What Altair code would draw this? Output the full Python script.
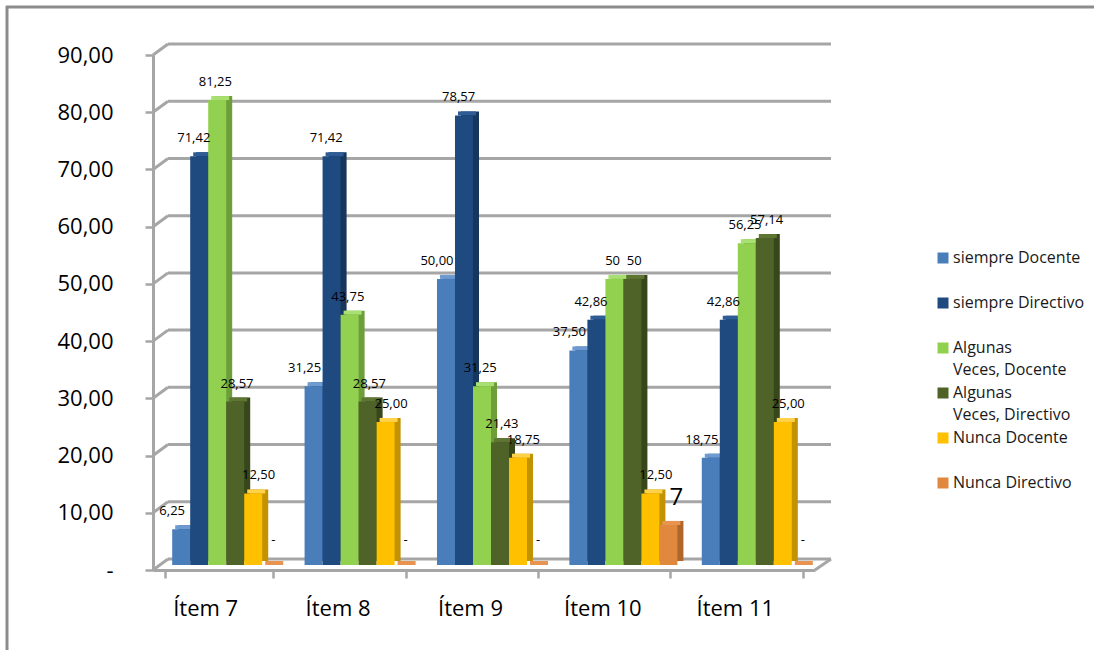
import altair as alt
import pandas as pd

# Categories and series
items = ["Ítem 7", "Ítem 8", "Ítem 9", "Ítem 10", "Ítem 11"]
series = ["siempre Docente", "siempre Directivo", "Algunas Veces, Docente",
          "Algunas Veces, Directivo", "Nunca Docente", "Nunca Directivo"]
legend_text = ["siempre Docente", "siempre Directivo", "Algunas\nVeces, Docente",
               "Algunas\nVeces, Directivo", "Nunca Docente", "Nunca Directivo"]

# Percentages per item
siempre_docente = [6.25, 31.25, 50.00, 37.50, 18.75]
siempre_directivo = [71.42, 71.42, 78.57, 42.86, 42.86]
algunas_docente = [81.25, 43.75, 31.25, 50.00, 56.25]
algunas_directivo = [28.57, 28.57, 21.43, 50.00, 57.14]
nunca_docente = [12.50, 25.00, 18.75, 12.50, 25.00]
nunca_directivo = [0.0, 0.0, 0.0, 7.0, 0.0]

# Labels printed as whole numbers
whole_labels = {("Ítem 10", "Algunas Veces, Docente"),
                ("Ítem 10", "Algunas Veces, Directivo"),
                ("Ítem 10", "Nunca Directivo")}
big_label = ("Ítem 10", "Nunca Directivo")

y_ticks = [0, 10, 20, 30, 40, 50, 60, 70, 80, 90]

front_colors = ["#4A7EBB", "#1F4A80", "#92D050", "#4F6228", "#FFC000", "#E0883E"]
side_colors = ["#375F8F", "#16365C", "#6E9E3A", "#38461B", "#C29200", "#B0652B"]
top_colors = ["#6D9AD0", "#2D5C96", "#A9E072", "#5E7632", "#FFD24A", "#E89350"]

rows = []
for k, (name, vals) in enumerate(zip(series, [siempre_docente, siempre_directivo, algunas_docente,
                                              algunas_directivo, nunca_docente, nunca_directivo])):
    for item, v in zip(items, vals):
        if v == 0:
            lab = "-"
        elif (item, name) in whole_labels:
            lab = str(int(v))
        else:
            lab = f"{v:.2f}".replace(".", ",")
        rows.append({"item": item, "series": name, "value": v, "label": lab,
                     "big": (item, name) == big_label,
                     "side_c": side_colors[k], "top_c": top_colors[k]})
df = pd.DataFrame(rows)
grid_df = pd.DataFrame({"value": y_ticks})
legend_df = pd.DataFrame({"series": series, "text": legend_text})

GRAY = "#A6A6A6"
W, H = 662, 515
DX, DY = 15, -11  # depth of the back wall

y_axis = alt.Axis(title=None, values=y_ticks, grid=False,
                  labelExpr="datum.value == 0 ? '-\u00a0\u00a0\u00a0' : replace(format(datum.value, '.2f'), '.', ',')",
                  domainColor=GRAY, domainWidth=3, tickColor=GRAY, tickWidth=2.5, tickSize=8,
                  labelFontSize=22, labelColor="black", labelPadding=32, labelFont="Open Sans")
x_axis = alt.Axis(title=None, tickBand="extent", labelAngle=0,
                  domainColor=GRAY, domainWidth=3, tickColor=GRAY, tickWidth=2.5, tickSize=8,
                  labelFontSize=22, labelColor="black", labelPadding=20, labelOffset=-14,
                  labelFont="Open Sans")

Y = alt.Y("value:Q", scale=alt.Scale(domain=[0, 90], nice=False), axis=y_axis)


def x_enc(shift, axis=None):
    # band scale for the items, moved back by `shift` pixels of depth
    return alt.X("item:N", sort=items,
                 scale=alt.Scale(domain=items, paddingInner=0.184, paddingOuter=0.092,
                                 range=[shift, W + shift]),
                 axis=axis)


XO = alt.XOffset("series:N", sort=series,
                 scale=alt.Scale(domain=series, paddingInner=0, paddingOuter=0))

# back-wall gridlines and their slanted joins to the front axis
grid = alt.Chart(grid_df).mark_rule(color=GRAY, strokeWidth=3, yOffset=DY).encode(
    y=Y, x=alt.value(DX), x2=alt.value(W + DX + 1))
joins = alt.Chart(grid_df).mark_rule(color=GRAY, strokeWidth=3, y2Offset=DY).encode(
    y=Y, y2=alt.Y2("value:Q"), x=alt.value(0), x2=alt.value(DX))
floor_join = alt.Chart(grid_df[grid_df["value"] == 0]).mark_rule(
    color=GRAY, strokeWidth=3, y2Offset=DY).encode(
    y=Y, y2=alt.Y2("value:Q"), x=alt.value(W), x2=alt.value(W + DX + 1))

# 3-D columns: dark side, light top, then the front face
side = alt.Chart(df).mark_bar(yOffset=-9, y2Offset=-9).encode(
    x=x_enc(13), xOffset=XO, y=Y, y2=alt.datum(0),
    fill=alt.Fill("side_c:N", scale=None))
top = alt.Chart(df).mark_bar(yOffset=-9, y2Offset=-5).encode(
    x=x_enc(10), xOffset=XO, y=Y, y2=alt.Y2("value:Q"),
    fill=alt.Fill("top_c:N", scale=None))
front = alt.Chart(df).mark_bar(yOffset=-5, y2Offset=-5).encode(
    x=x_enc(7), xOffset=XO, y=Y, y2=alt.datum(0),
    color=alt.Color("series:N", scale=alt.Scale(domain=series, range=front_colors), legend=None))

labels = alt.Chart(df).transform_filter("!datum.big && datum.value > 0").mark_text(
    dx=7, dy=-23, fontSize=13, font="Open Sans", color="black", baseline="middle").encode(
    x=x_enc(0, x_axis), xOffset=XO, y=Y, text="label:N")
zero_labels = alt.Chart(df).transform_filter("datum.value == 0").mark_text(
    dx=0, dy=-30, fontSize=13, font="Open Sans", color="black", baseline="middle").encode(
    x=x_enc(0), xOffset=XO, y=Y, text="label:N")
big = alt.Chart(df).transform_filter("datum.big").mark_text(
    dx=6, dy=-32, fontSize=24, font="Open Sans", color="black", baseline="middle").encode(
    x=x_enc(0), xOffset=XO, y=Y, text="label:N")

plot = alt.layer(grid, joins, floor_join, side, top, front, labels, zero_labels, big).resolve_scale(
    x="independent", xOffset="independent")

# legend on the right
LY = alt.Y("series:N", scale=alt.Scale(type="point", domain=series, range=[203, 428], padding=0),
           axis=None)
swatch = alt.Chart(legend_df).mark_square(size=121, opacity=1, filled=True).encode(
    x=alt.value(790), y=LY,
    color=alt.Color("series:N", scale=alt.Scale(domain=series, range=front_colors), legend=None))
legend_lbl = alt.Chart(legend_df).mark_text(
    align="left", baseline="line-top", dy=-11, lineHeight=22, fontSize=16,
    font="Open Sans", color="#1a1a1a", lineBreak="\n").encode(
    x=alt.value(800), y=LY, text="text:N")

# outer frame: top and left edges
one = pd.DataFrame({"k": [0]})
frame_top = alt.Chart(one).mark_rule(color="#8C8C8C", strokeWidth=3).encode(
    x=alt.value(-147), x2=alt.value(1000), y=alt.value(-48))
frame_left = alt.Chart(one).mark_rule(color="#8C8C8C", strokeWidth=3).encode(
    x=alt.value(-146), y=alt.value(-49), y2=alt.value(700))

chart = alt.layer(plot, swatch, legend_lbl, frame_top, frame_left).resolve_scale(
    y="independent").properties(
    width=W, height=H,
    autosize=alt.AutoSizeParams(type="none"),
    padding={"left": 153, "top": 55, "right": 279, "bottom": 80},
).configure(font="Open Sans", background="white").configure_view(stroke=None)

chart.save("out.html", embed_options={"renderer": "svg", "actions": False})
